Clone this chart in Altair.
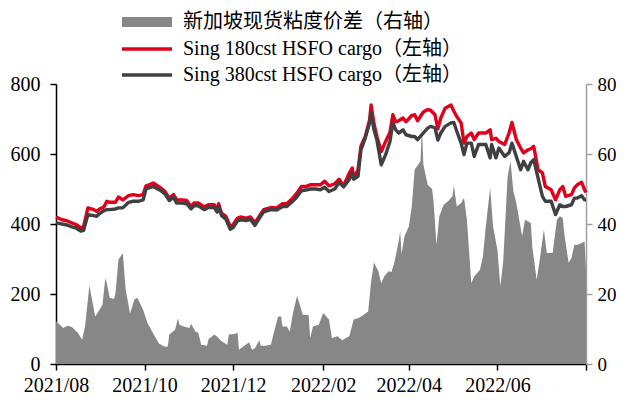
import altair as alt
import pandas as pd

# ---------------- data ----------------
price_dates = [
    "2021-08-01", "2021-08-05", "2021-08-08", "2021-08-12", "2021-08-15", "2021-08-18", "2021-08-20", "2021-08-23", "2021-08-27", "2021-08-29", "2021-08-31",
    "2021-09-03", "2021-09-05", "2021-09-07", "2021-09-11", "2021-09-13", "2021-09-16", "2021-09-20", "2021-09-23", "2021-09-27", "2021-09-30",
    "2021-10-02", "2021-10-04", "2021-10-07", "2021-10-10", "2021-10-12", "2021-10-15", "2021-10-18", "2021-10-21", "2021-10-23", "2021-10-27", "2021-10-30",
    "2021-11-02", "2021-11-04", "2021-11-07", "2021-11-11", "2021-11-14", "2021-11-18", "2021-11-20", "2021-11-21", "2021-11-23", "2021-11-26", "2021-11-29",
    "2021-12-01", "2021-12-04", "2021-12-06", "2021-12-10", "2021-12-13", "2021-12-16", "2021-12-19", "2021-12-22", "2021-12-27", "2021-12-31",
    "2022-01-04", "2022-01-07", "2022-01-11", "2022-01-14", "2022-01-17", "2022-01-20", "2022-01-23", "2022-01-27", "2022-01-30",
    "2022-02-02", "2022-02-05", "2022-02-09", "2022-02-12", "2022-02-15", "2022-02-19", "2022-02-21", "2022-02-22", "2022-02-25", "2022-02-27",
    "2022-03-02", "2022-03-05", "2022-03-06", "2022-03-08", "2022-03-10", "2022-03-13", "2022-03-16", "2022-03-19", "2022-03-21", "2022-03-23", "2022-03-25", "2022-03-28", "2022-03-30",
    "2022-04-03", "2022-04-05", "2022-04-07", "2022-04-11", "2022-04-14", "2022-04-16", "2022-04-19", "2022-04-21", "2022-04-23", "2022-04-26", "2022-04-30",
    "2022-05-02", "2022-05-04", "2022-05-07", "2022-05-09", "2022-05-11", "2022-05-14", "2022-05-16", "2022-05-19", "2022-05-24", "2022-05-27", "2022-05-28", "2022-05-31",
    "2022-06-02", "2022-06-06", "2022-06-09", "2022-06-11", "2022-06-14", "2022-06-17", "2022-06-19", "2022-06-22", "2022-06-24", "2022-06-26", "2022-06-29",
    "2022-07-02", "2022-07-04", "2022-07-08", "2022-07-11", "2022-07-14", "2022-07-16", "2022-07-18", "2022-07-22", "2022-07-24", "2022-07-26", "2022-07-29", "2022-07-31",
    "2022-08-01",
]

hsfo180 = [
    420, 412, 410, 403, 398, 389, 393, 446, 441, 436, 443,
    449, 465, 462, 462, 477, 469, 481, 484, 481, 484,
    509, 512, 517, 509, 503, 493, 474, 484, 469, 469, 467,
    450, 460, 460, 449, 455, 455, 441, 458, 431, 422, 393,
    398, 417, 420, 417, 420, 403, 422, 441, 447, 446,
    458, 458, 474, 489, 507, 507, 512, 512, 512,
    522, 509, 515, 528, 509, 546, 560, 531, 555, 622,
    650, 698, 740, 686, 650, 607, 636, 662, 712, 692, 695, 703, 692,
    710, 712, 695, 720, 727, 725, 712, 672, 703, 731, 740,
    722, 707, 689, 631, 650, 660, 641, 660, 660, 669, 641, 645,
    636, 627, 660, 690, 641, 617, 603, 612, 615, 622, 555,
    546, 507, 498, 469, 498, 507, 479, 484, 503, 512, 519, 498,
    490,
]

hsfo380 = [
    403, 400, 398, 392, 388, 380, 382, 427, 424, 422, 430,
    438, 441, 441, 443, 446, 446, 462, 465, 465, 469,
    500, 503, 507, 500, 496, 486, 467, 476, 460, 460, 458,
    443, 452, 452, 441, 447, 447, 434, 450, 424, 414, 385,
    390, 409, 412, 410, 413, 396, 416, 435, 441, 440,
    450, 450, 465, 478, 495, 497, 500, 500, 498,
    505, 493, 500, 519, 506, 527, 546, 528, 536, 612,
    646, 689, 717, 669, 640, 569, 598, 636, 689, 669, 660, 669, 655,
    650, 650, 641, 660, 674, 679, 675, 640, 660, 679, 689,
    690, 665, 631, 598, 631, 631, 593, 627, 627, 589, 627, 589,
    617, 593, 603, 631, 593, 555, 579, 555, 575, 584, 531,
    479, 465, 465, 427, 455, 450, 450, 455, 474, 474, 481, 469,
    469,
]

spread_dates = [
    "2021-08-01", "2021-08-06", "2021-08-09", "2021-08-12", "2021-08-16", "2021-08-19", "2021-08-21", "2021-08-24", "2021-08-28", "2021-08-31",
    "2021-09-02", "2021-09-04", "2021-09-05", "2021-09-07", "2021-09-10", "2021-09-11", "2021-09-13", "2021-09-16", "2021-09-18", "2021-09-21", "2021-09-24", "2021-09-26", "2021-09-30",
    "2021-10-03", "2021-10-08", "2021-10-11", "2021-10-15", "2021-10-17", "2021-10-18", "2021-10-22", "2021-10-24", "2021-10-25", "2021-10-28",
    "2021-11-01", "2021-11-02", "2021-11-05", "2021-11-07", "2021-11-09", "2021-11-13", "2021-11-14", "2021-11-18", "2021-11-20", "2021-11-23", "2021-11-27", "2021-11-28",
    "2021-12-02", "2021-12-04", "2021-12-05", "2021-12-08", "2021-12-12", "2021-12-14", "2021-12-16", "2021-12-19", "2021-12-20", "2021-12-23", "2021-12-27", "2021-12-29",
    "2022-01-01", "2022-01-03", "2022-01-04", "2022-01-07", "2022-01-09", "2022-01-11", "2022-01-14", "2022-01-18", "2022-01-22", "2022-01-23", "2022-01-25", "2022-01-29",
    "2022-02-01", "2022-02-05", "2022-02-07", "2022-02-11", "2022-02-14", "2022-02-17", "2022-02-19", "2022-02-22", "2022-02-25", "2022-02-28",
    "2022-03-04", "2022-03-06", "2022-03-08", "2022-03-11", "2022-03-13", "2022-03-15", "2022-03-18", "2022-03-20", "2022-03-22", "2022-03-25", "2022-03-26", "2022-03-27", "2022-03-29",
    "2022-04-01", "2022-04-03", "2022-04-05", "2022-04-09", "2022-04-10", "2022-04-11", "2022-04-12", "2022-04-14", "2022-04-17", "2022-04-18", "2022-04-20", "2022-04-22", "2022-04-25", "2022-04-28",
    "2022-05-01", "2022-05-02", "2022-05-04", "2022-05-07", "2022-05-09", "2022-05-11", "2022-05-14", "2022-05-16", "2022-05-20", "2022-05-22", "2022-05-24", "2022-05-27", "2022-05-29",
    "2022-06-01", "2022-06-03", "2022-06-05", "2022-06-08", "2022-06-10", "2022-06-12", "2022-06-14", "2022-06-18", "2022-06-20", "2022-06-24", "2022-06-25", "2022-06-28", "2022-06-30",
    "2022-07-03", "2022-07-05", "2022-07-09", "2022-07-12", "2022-07-14", "2022-07-16", "2022-07-17", "2022-07-20", "2022-07-22", "2022-07-24", "2022-07-26", "2022-07-29", "2022-07-31",
    "2022-08-01",
]

spread = [
    12.2, 10.3, 10.9, 10.6, 8.9, 6.9, 10.7, 22.4, 13.6, 15.5,
    16.9, 24.6, 23.1, 18.9, 18.6, 20.3, 29.8, 31.7, 21.2, 14.4, 18.4, 18.9, 15.5,
    11.7, 7.9, 5.8, 4.9, 5.0, 8.4, 9.8, 13.1, 11.2, 10.7,
    10.3, 11.5, 9.3, 8.9, 5.5, 5.2, 7.1, 8.4, 7.8, 6.5, 5.5, 8.4,
    8.6, 8.9, 4.1, 5.0, 6.2, 4.1, 4.5, 6.8, 5.2, 5.2, 5.5, 8.9,
    13.6, 13.6, 10.7, 10.7, 9.3, 14.1, 19.5, 14.1, 14.0, 7.4, 10.7, 11.2,
    14.6, 12.7, 7.4, 7.9, 6.8, 7.5, 7.9, 12.7, 13.1, 13.8,
    15.0, 23.6, 29.0, 26.5, 23.1, 25.0, 26.5, 26.3, 29.0, 35.0, 37.9, 31.4, 36.5,
    39.3, 45.0, 55.5, 57.9, 68.0, 57.0, 55.0, 51.2, 50.0, 46.5, 34.1, 42.2, 45.5, 46.5,
    47.9, 50.9, 45.0, 46.0, 47.4, 41.2, 23.1, 25.0, 26.9, 30.7, 39.3, 50.3, 39.3,
    32.6, 22.2, 29.3, 53.6, 57.9, 49.3, 46.0, 36.5, 41.2, 40.3, 33.6, 24.1, 29.3,
    38.4, 31.7, 31.7, 41.2, 42.2, 41.7, 37.4, 28.9, 30.3, 34.1, 34.0, 34.6, 35.0,
    26.9,
]

S_SPREAD = "新加坡现货粘度价差（右轴）"
S180 = "Sing 180cst HSFO cargo（左轴）"
S380 = "Sing 380cst HSFO cargo（左轴）"

left_ticks = [0, 200, 400, 600, 800]
right_ticks = [0, 20, 40, 60, 80]
x_tick_months = [(2021, 8), (2021, 10), (2021, 12), (2022, 2), (2022, 4), (2022, 6), (2022, 8)]

spread_df = pd.DataFrame({"date": spread_dates, "value": spread, "series": S_SPREAD})
price_df = pd.concat([
    pd.DataFrame({"date": price_dates, "value": hsfo180, "series": S180}),
    pd.DataFrame({"date": price_dates, "value": hsfo380, "series": S380}),
], ignore_index=True)

FONT = "Liberation Serif, Noto Sans CJK SC"

x_domain = [alt.DateTime(year=2021, month=8, date=1, utc=True),
            alt.DateTime(year=2022, month=8, date=1, utc=True)]
x_vals = [alt.DateTime(year=y, month=m, date=1, utc=True) for (y, m) in x_tick_months]

x_enc = alt.X(
    "date:T",
    scale=alt.Scale(type="utc", domain=x_domain),
    axis=alt.Axis(
        values=x_vals,
        labelExpr="utcFormat(datum.value, '%Y/%m') == '2022/08' ? '' : utcFormat(datum.value, '%Y/%m')",
        title=None, grid=False, labelFlush=False, labelOverlap=False,
        tickSize=6, labelPadding=5, domainColor="black", tickColor="black",
        domainWidth=1.5, tickWidth=1.5,
    ),
)

area = alt.Chart(spread_df).mark_area(opacity=1).encode(
    x=x_enc,
    y=alt.Y("value:Q", scale=alt.Scale(domain=[0, 80], nice=False),
            axis=alt.Axis(orient="right", values=right_ticks, title=None, grid=False,
                          tickSize=6, labelPadding=5, labelFontSize=19,
                          domainColor="#A0A0A0", tickColor="#A0A0A0",
                          domainWidth=1.5, tickWidth=1.5)),
    color=alt.Color("series:N", scale=alt.Scale(domain=[S_SPREAD], range=["#878787"]),
                    legend=alt.Legend(title=None, orient="none", legendX=81, legendY=-72,
                                      symbolType="M-5,-1H5V1H-5Z", symbolSize=100,
                                      symbolStrokeWidth=0, symbolOpacity=1,
                                      labelFont=FONT, labelFontSize=20, labelColor="black",
                                      labelLimit=0, labelOffset=26, padding=0)),
)

lines = alt.Chart(price_df).mark_line(strokeWidth=3.4, strokeJoin="round").encode(
    x=x_enc,
    y=alt.Y("value:Q", scale=alt.Scale(domain=[0, 800], nice=False),
            axis=alt.Axis(orient="left", values=left_ticks, title=None, grid=False,
                          tickSize=6, labelPadding=10, domainColor="black",
                          tickColor="black", domainWidth=1.5, tickWidth=1.5)),
    color=alt.Color("series:N", scale=alt.Scale(domain=[S180, S380], range=["#E0001B", "#404040"]),
                    legend=alt.Legend(title=None, orient="none", legendX=81, legendY=-45,
                                      symbolType="M-5,0H5", symbolSize=100, symbolStrokeWidth=3.4,
                                      labelFont=FONT, labelFontSize=20, labelColor="black",
                                      labelLimit=0, labelOffset=26, rowPadding=6, padding=0)),
    order=alt.Order("series:N"),
)

chart = alt.layer(area, lines).resolve_scale(y="independent", color="independent").properties(
    width=530, height=280,
    autosize=alt.AutoSizeParams(type="none"),
    padding={"left": 48, "top": 76, "right": 30, "bottom": 31},
).configure_view(stroke=None).configure_axis(
    labelFont=FONT, labelFontSize=20, labelColor="black",
)

chart.save("out.html", embed_options={"renderer": "svg", "actions": False})
